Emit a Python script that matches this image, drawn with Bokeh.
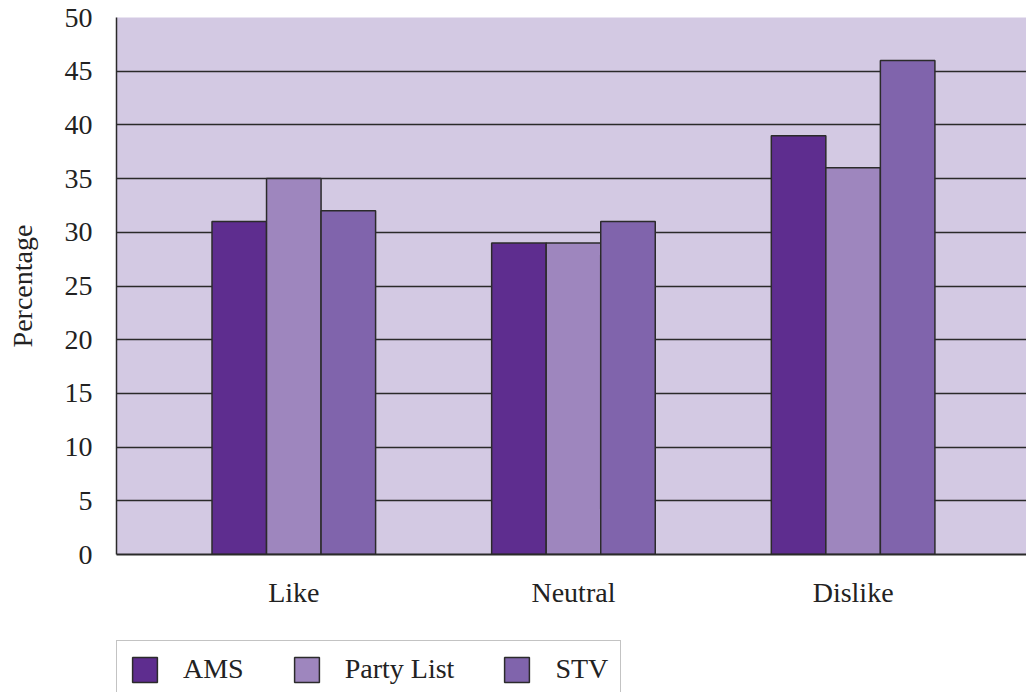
from bokeh.plotting import figure
from bokeh.layouts import column
from bokeh.models import ColumnDataSource, Range1d, FixedTicker, Legend, LegendItem
from bokeh.transform import dodge
from bokeh.embed import file_html
from bokeh.resources import INLINE

categories = ["Like", "Neutral", "Dislike"]
series_names = ["AMS", "Party List", "STV"]
ams = [31, 29, 39]
party_list = [35, 29, 36]
stv = [32, 31, 46]
y_ticks = [0, 5, 10, 15, 20, 25, 30, 35, 40, 45, 50]

colors = ["#5E2D8F", "#9E86BE", "#8064AC"]
FONT = "Liberation Serif"
OUTLINE = "#2b2b2b"

source = ColumnDataSource(data=dict(
    x=list(range(len(categories))),
    AMS=ams,
    PartyList=party_list,
    STV=stv,
))

p = figure(
    width=1026, height=620,
    x_range=Range1d(-0.634, 2.62), y_range=Range1d(0, 50),
    output_backend="svg", toolbar_location=None,
    min_border_left=115, min_border_right=0,
    min_border_top=17, min_border_bottom=66,
)

p.background_fill_color = "#D3C9E3"
p.border_fill_color = "white"
p.outline_line_color = None

bw = 0.195
for col, off, c in zip(["AMS", "PartyList", "STV"], [-bw, 0.0, bw], colors):
    p.vbar(x=dodge("x", off, range=p.x_range), top=col, width=bw, bottom=0,
           source=source, fill_color=c, line_color=OUTLINE, line_width=1.5)

# grid
p.xgrid.grid_line_color = None
p.ygrid.ticker = FixedTicker(ticks=y_ticks)
p.ygrid.grid_line_color = "#2a2a2a"
p.ygrid.grid_line_width = 1.5

# axes
p.yaxis.ticker = FixedTicker(ticks=y_ticks)
p.yaxis.axis_label = "Percentage"
p.yaxis.axis_label_text_font = FONT
p.yaxis.axis_label_text_font_style = "normal"
p.yaxis.axis_label_text_font_size = "28px"
p.yaxis.axis_label_text_color = "#222222"
p.yaxis.axis_label_standoff = 24
p.yaxis.major_label_text_font = FONT
p.yaxis.major_label_text_font_size = "28px"
p.yaxis.major_label_text_color = "#222222"
p.yaxis.major_label_standoff = 24
p.yaxis.major_tick_line_color = None
p.yaxis.major_tick_out = 0
p.yaxis.major_tick_in = 0
p.yaxis.minor_tick_line_color = None
p.yaxis.axis_line_color = "#2a2a2a"
p.yaxis.axis_line_width = 1.5

p.xaxis.ticker = FixedTicker(ticks=list(range(len(categories))))
p.xaxis.major_label_overrides = {i: c for i, c in enumerate(categories)}
p.xaxis.major_label_text_font = FONT
p.xaxis.major_label_text_font_size = "28px"
p.xaxis.major_label_text_color = "#222222"
p.xaxis.major_label_standoff = 22
p.xaxis.major_tick_line_color = None
p.xaxis.major_tick_out = 0
p.xaxis.major_tick_in = 0
p.xaxis.minor_tick_line_color = None
p.xaxis.axis_line_color = "#2a2a2a"
p.xaxis.axis_line_width = 2

# legend strip (separate figure so the legend is not clipped by the main frame)
lg = figure(
    width=1026, height=72,
    x_range=Range1d(0, 1), y_range=Range1d(0, 1),
    output_backend="svg", toolbar_location=None,
    x_axis_type=None, y_axis_type=None,
    min_border_left=116, min_border_right=0,
    min_border_top=20, min_border_bottom=0,
)
lg.outline_line_color = None
lg.background_fill_color = "white"
lg.border_fill_color = "white"
lg.xgrid.grid_line_color = None
lg.ygrid.grid_line_color = None

swatches = []
for c in colors:
    # placed outside the visible range; only used for the legend swatch
    swatches.append(lg.vbar(x=[-10], top=[-10], bottom=[-11], width=0.1, fill_color=c,
                            line_color=OUTLINE, line_width=1.5))

legend = Legend(
    items=[LegendItem(label=n, renderers=[r]) for n, r in zip(series_names, swatches)],
    location="top_left", orientation="horizontal",
    glyph_width=31, glyph_height=31, label_standoff=23, spacing=47,
    padding=12, margin=0,
    label_text_font=FONT, label_text_font_size="28px", label_text_color="#222222",
    border_line_color="#888888", border_line_width=1.5,
    background_fill_color="white", background_fill_alpha=1.0,
)
lg.add_layout(legend)

layout = column(p, lg, spacing=0)
open("out.html", "w").write(file_html(layout, INLINE))
